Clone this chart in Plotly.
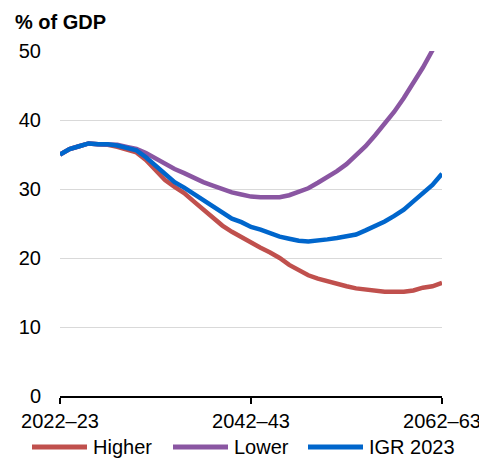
import plotly.graph_objects as go

years = list(range(2022, 2063))
tick_labels = ["2022\u201323", "2042\u201343", "2062\u201363"]

igr_2023 = [35.0, 35.8, 36.2, 36.6, 36.5, 36.5, 36.3, 36.0, 35.6, 34.6,
            33.4, 32.1, 31.0, 30.2, 29.3, 28.3, 27.5, 26.5, 25.7, 25.2,
            24.5, 24.1, 23.6, 23.1, 22.8, 22.5, 22.4, 22.5, 22.7, 22.9,
            23.1, 23.4, 24.0, 24.6, 25.3, 26.1, 27.0, 28.2, 29.3, 30.6, 32.2]

lower = [35.0, 35.8, 36.2, 36.6, 36.5, 36.5, 36.4, 36.1, 35.8, 35.2,
         34.4, 33.6, 32.9, 32.3, 31.6, 31.0, 30.5, 30.0, 29.5, 29.2,
         28.9, 28.8, 28.8, 28.8, 29.1, 29.6, 30.1, 30.9, 31.7, 32.6,
         33.6, 34.8, 36.2, 37.8, 39.4, 41.2, 43.2, 45.3, 47.6, 50.1, 53.0]

higher = [35.0, 35.8, 36.2, 36.6, 36.5, 36.4, 36.1, 35.7, 35.3, 34.2,
          32.8, 31.3, 30.3, 29.4, 28.2, 27.0, 25.8, 24.7, 23.8, 23.0,
          22.2, 21.5, 20.8, 20.0, 19.0, 18.2, 17.5, 17.0, 16.6, 16.3,
          15.9, 15.6, 15.4, 15.2, 15.1, 15.1, 15.1, 15.3, 15.7, 15.9, 16.4]

series_names = ["Higher", "Lower", "IGR 2023"]
series_colors = ["#C0504D", "#8A56A2", "#0066CC"]

FONT = "Liberation Sans, Arial, sans-serif"

W, H = 479, 454
ML, MR, MT, MB = 52, 45, 43, 66
PW, PH = W - ML - MR, H - MT - MB


def px_x(X):
    return (X - ML) / PW


def px_y(Y):
    return (H - MB - Y) / PH


fig = go.Figure()
for name, vals, col in zip(series_names, [higher, lower, igr_2023], series_colors):
    fig.add_trace(go.Scatter(x=years, y=vals, mode="lines", name=name,
                             line=dict(color=col, width=4.5)))

# Custom legend (long line samples like the reference)
shapes = []
annotations = []
leg_y = px_y(439)
line_starts = [24, 165, 300]
for name, col, xs in zip(series_names, series_colors, line_starts):
    shapes.append(dict(type="line", xref="paper", yref="paper",
                       x0=px_x(xs), x1=px_x(xs + 55), y0=leg_y, y1=leg_y,
                       line=dict(color=col, width=5)))
    annotations.append(dict(text=name, xref="paper", yref="paper",
                            x=px_x(xs + 59), y=leg_y, xanchor="left",
                            yanchor="middle", showarrow=False,
                            font=dict(size=20)))

annotations.append(dict(text="<b>% of GDP</b>", xref="paper", yref="paper",
                        x=px_x(5), y=px_y(14), xanchor="left", yanchor="middle",
                        showarrow=False, font=dict(size=20)))

fig.update_layout(
    width=W, height=H,
    margin=dict(l=ML, r=MR, t=MT, b=MB, autoexpand=False),
    paper_bgcolor="white", plot_bgcolor="white",
    font=dict(family=FONT, size=20, color="black"),
    showlegend=False,
    xaxis=dict(range=[2022, 2062], tickvals=[2022, 2042, 2062],
               ticktext=tick_labels, ticks="outside", ticklen=6,
               tickcolor="black", tickwidth=1.5, automargin=False,
               showline=True, linecolor="black", linewidth=1.5,
               showgrid=False, zeroline=False,
               tickfont=dict(size=20)),
    yaxis=dict(range=[0, 50], tickvals=[0, 10, 20, 30, 40, 50],
               showgrid=True, gridcolor="#D9D9D9", gridwidth=1,
               zeroline=False, showline=False, ticks="", automargin=False,
               ticklabelstandoff=18, tickfont=dict(size=20)),
    shapes=shapes,
    annotations=annotations,
)

fig.write_html("out.html")
